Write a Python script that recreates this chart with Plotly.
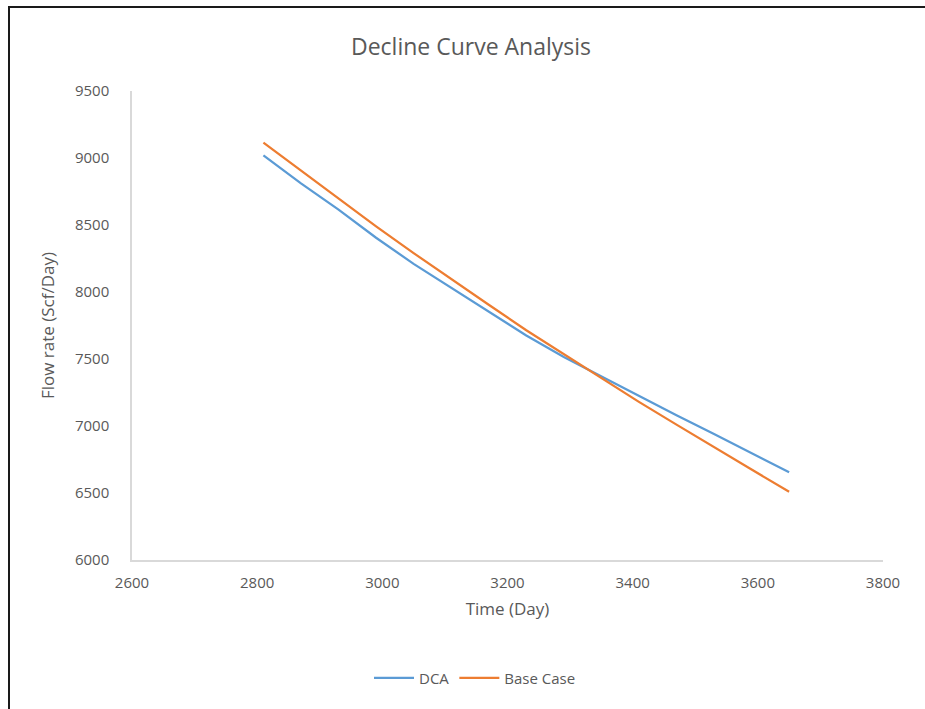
import plotly.graph_objects as go

# Production history (days) and flow rates in Scf/Day
days = [2810, 2870, 2930, 2990, 3050, 3110, 3170, 3230, 3290, 3350,
        3410, 3470, 3530, 3590, 3650]
dca_rate = [9020, 8810, 8615, 8405, 8210, 8030, 7850, 7675, 7515, 7368,
            7222, 7080, 6940, 6800, 6655]
base_rate = [9115, 8905, 8695, 8490, 8290, 8095, 7905, 7715, 7535, 7355,
             7180, 7010, 6840, 6675, 6510]

x_ticks = [2600, 2800, 3000, 3200, 3400, 3600, 3800]
y_ticks = [6000, 6500, 7000, 7500, 8000, 8500, 9000, 9500]

W, H = 925, 709
L, R, T, B = 132, 42, 91, 149
FONT = "Open Sans"
GREY = "#595959"

fig = go.Figure()
fig.add_trace(go.Scatter(x=days, y=dca_rate, mode="lines", name="DCA",
                         line=dict(color="#5B9BD5", width=2.25)))
fig.add_trace(go.Scatter(x=days, y=base_rate, mode="lines", name="Base Case",
                         line=dict(color="#ED7D31", width=2.25)))

# Outer frame: left and top edges only
pw, ph = W - L - R, H - T - B
def px(xp):
    return (xp - L) / pw
def py(yp):
    return (H - B - yp) / ph
fig.add_shape(type="line", xref="paper", yref="paper",
              x0=px(9), x1=px(9), y0=py(7), y1=py(H + 2),
              line=dict(color="#1a1a1a", width=2))
fig.add_shape(type="line", xref="paper", yref="paper",
              x0=px(8), x1=px(W + 2), y0=py(7), y1=py(7),
              line=dict(color="#1a1a1a", width=2))

fig.update_layout(
    width=W, height=H,
    margin=dict(l=L, r=R, t=T, b=B, pad=0),
    paper_bgcolor="white", plot_bgcolor="white",
    font=dict(family=FONT, color=GREY, size=15),
    title=dict(text="Decline Curve Analysis", xref="container", yref="container",
               x=471 / W, y=1 - 47 / H, xanchor="center", yanchor="middle",
               font=dict(size=23, color=GREY, family=FONT)),
    xaxis=dict(range=[2600, 3800], tickvals=x_ticks, showgrid=False,
               zeroline=False, showline=True, linecolor="#D9D9D9", linewidth=1.5,
               ticks="outside", ticklen=8, tickcolor="rgba(0,0,0,0)",
               tickfont=dict(size=15, color=GREY),
               title=dict(text="Time (Day)", font=dict(size=17, color=GREY), standoff=12)),
    yaxis=dict(range=[6000, 9500], tickvals=y_ticks, showgrid=False,
               zeroline=False, showline=True, linecolor="#D9D9D9", linewidth=1.5,
               ticks="outside", ticklen=18, tickcolor="rgba(0,0,0,0)",
               tickfont=dict(size=15, color=GREY),
               title=dict(text="Flow rate (Scf/Day)", font=dict(size=17, color=GREY), standoff=16)),
    legend=dict(orientation="h", xref="container", yref="container",
                x=475 / W, y=1 - 678 / H, xanchor="center", yanchor="middle",
                font=dict(size=15, color=GREY), itemwidth=40, bgcolor="rgba(0,0,0,0)"),
    showlegend=True,
)

fig.write_html("out.html")
